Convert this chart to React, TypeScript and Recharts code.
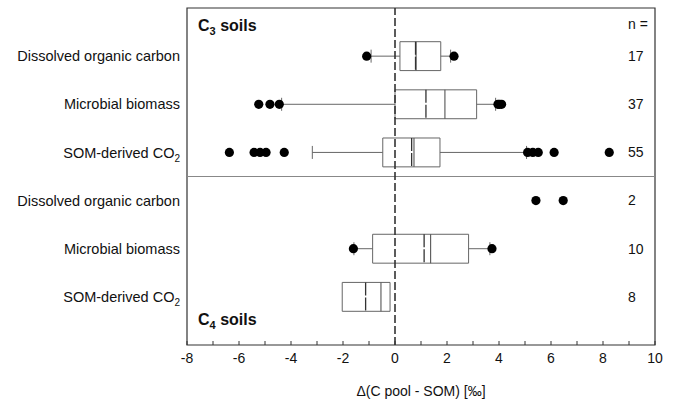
import { ScatterChart, Scatter, XAxis, YAxis, ReferenceArea, ReferenceLine, Label } from 'recharts';

// rows, top to bottom (0-2: C3 soils, 3-5: C4 soils)
const rowLabels = ['Dissolved organic carbon', 'Microbial biomass', 'SOM-derived CO2', 'Dissolved organic carbon', 'Microbial biomass', 'SOM-derived CO2'];
const rowCounts = [17, 37, 55, 2, 10, 8];

// box statistics per row (null = not drawn)
const boxQ1 = [0.19, 0.0, -0.47, null, -0.86, -2.03];
const boxMedian = [0.81, 1.92, 0.73, null, 1.37, -0.54];
const boxMean = [0.79, 1.19, 0.64, null, 1.12, -1.13];
const boxQ3 = [1.76, 3.14, 1.73, null, 2.83, -0.19];
const whiskerLow = [-0.92, -4.36, -3.18, null, -1.58, null];
const whiskerHigh = [2.14, 3.87, 5.06, null, 3.65, null];

// outliers per row
const outliersDocC3 = [-1.09, 2.27];
const outliersMbC3 = [-5.24, -4.81, -4.45, 3.96, 4.02, 4.1];
const outliersCo2C3 = [-6.37, -5.42, -5.19, -4.96, -4.26, 5.1, 5.3, 5.51, 6.12, 8.24];
const outliersDocC4 = [5.42, 6.47];
const outliersMbC4 = [-1.6, 3.73];
const outliersCo2C4: number[] = [];

const xTicks = [-8, -7, -6, -5, -4, -3, -2, -1, 0, 1, 2, 3, 4, 5, 6, 7, 8, 9, 10];

const rows = [0, 1, 2, 3, 4, 5];
const outlierRows = [outliersDocC3, outliersMbC3, outliersCo2C3, outliersDocC4, outliersMbC4, outliersCo2C4];
const outlierData = outlierRows.flatMap((vals, row) => vals.map((x) => ({ x, y: row })));

// "n =" column, placed in data units near the right frame
const COUNT_X = 8.96;
const HEADER_Y = -0.67;
const countData = [
  { x: COUNT_X, y: HEADER_Y, label: 'n =' },
  ...rows.map((r) => ({ x: COUNT_X, y: r, label: String(rowCounts[r]) })),
];

const BOX_H = 0.3;
const CAP_H = 0.135;
const LINE = '#666';
const FONT = 'Liberation Sans, Arial, sans-serif';

function RowTick({ x, y, payload }: any) {
  const label: string = rowLabels[payload.value] ?? '';
  const sub = label.endsWith('CO2');
  return (
    <text x={x} y={y} dy="0.35em" textAnchor="end" fontSize={14.5} fill="#111" fontFamily={FONT}>
      {sub ? label.slice(0, -1) : label}
      {sub && <tspan fontSize={10} dy={4}>2</tspan>}
    </text>
  );
}

function Title({ x, y, n }: { x: number; y: number; n: string }) {
  return (
    <text x={x} y={y} fontSize={16} fontWeight="bold" fill="#111" fontFamily={FONT}>
      C<tspan fontSize={11} dy={4}>{n}</tspan>
      <tspan dy={-4}> soils</tspan>
    </text>
  );
}

export default function App() {
  return (
    <div style={{ position: 'absolute', left: 0, top: 0 }}>
      <ScatterChart width={676} height={399} margin={{ top: 8, right: 21, bottom: 0, left: 0 }}>
        <XAxis
          type="number"
          dataKey="x"
          domain={[-8, 10]}
          ticks={xTicks}
          interval={0}
          allowDataOverflow
          height={54}
          axisLine={false}
          tickSize={-4}
          tickMargin={12}
          tickLine={{ stroke: '#333' }}
          tickFormatter={(v: number) => (v % 2 === 0 ? String(v) : '')}
          tick={{ fontSize: 14, fill: '#111', fontFamily: FONT }}
        >
          <Label value="Δ(C pool - SOM) [‰]" position="insideBottom" offset={3} fontSize={14} fill="#111" fontFamily={FONT} />
        </XAxis>
        <YAxis
          type="number"
          dataKey="y"
          domain={[-1, 6]}
          reversed
          allowDataOverflow
          ticks={rows}
          interval={0}
          width={187}
          axisLine={false}
          tickLine={false}
          tickSize={0}
          tickMargin={7}
          tick={<RowTick />}
        />

        {/* plot frame and group divider */}
        <ReferenceArea x1={-8} x2={10} y1={-1} y2={6} fill="none" stroke="#333" strokeWidth={1.2} ifOverflow="visible" />
        <ReferenceLine y={2.5} stroke="#888" strokeWidth={1.2} />

        {rows.map((r) =>
          boxQ1[r] !== null && boxQ3[r] !== null ? (
            <ReferenceArea key={`box-${r}`} x1={boxQ1[r]!} x2={boxQ3[r]!} y1={r - BOX_H} y2={r + BOX_H} fill="none" stroke={LINE} strokeWidth={1} fillOpacity={0} />
          ) : null
        )}
        {rows.map((r) =>
          boxMedian[r] !== null ? (
            <ReferenceLine key={`med-${r}`} segment={[{ x: boxMedian[r]!, y: r - BOX_H }, { x: boxMedian[r]!, y: r + BOX_H }]} stroke="#555" strokeWidth={1.1} />
          ) : null
        )}
        {rows.map((r) =>
          boxMean[r] !== null ? (
            <ReferenceLine key={`mean-${r}`} segment={[{ x: boxMean[r]!, y: r - BOX_H }, { x: boxMean[r]!, y: r + BOX_H }]} stroke="#333" strokeWidth={1.3} strokeDasharray="13 2" />
          ) : null
        )}
        {rows.map((r) =>
          whiskerLow[r] !== null ? (
            <ReferenceLine key={`wl-${r}`} segment={[{ x: whiskerLow[r]!, y: r }, { x: boxQ1[r]!, y: r }]} stroke={LINE} strokeWidth={1} />
          ) : null
        )}
        {rows.map((r) =>
          whiskerHigh[r] !== null ? (
            <ReferenceLine key={`wh-${r}`} segment={[{ x: boxQ3[r]!, y: r }, { x: whiskerHigh[r]!, y: r }]} stroke={LINE} strokeWidth={1} />
          ) : null
        )}
        {rows.map((r) =>
          whiskerLow[r] !== null ? (
            <ReferenceLine key={`cl-${r}`} segment={[{ x: whiskerLow[r]!, y: r - CAP_H }, { x: whiskerLow[r]!, y: r + CAP_H }]} stroke={LINE} strokeWidth={1} />
          ) : null
        )}
        {rows.map((r) =>
          whiskerHigh[r] !== null ? (
            <ReferenceLine key={`ch-${r}`} segment={[{ x: whiskerHigh[r]!, y: r - CAP_H }, { x: whiskerHigh[r]!, y: r + CAP_H }]} stroke={LINE} strokeWidth={1} />
          ) : null
        )}

        <ReferenceLine x={0} stroke="#333" strokeWidth={1.6} strokeDasharray="8 3" />

        <Scatter
          data={outlierData}
          isAnimationActive={false}
          shape={(p: any) => <circle cx={p.cx} cy={p.cy} r={4.6} fill="#000" />}
        />
        <Scatter
          data={countData}
          isAnimationActive={false}
          shape={(p: any) => (
            <text x={p.cx} y={p.cy} dy="0.35em" textAnchor="start" fontSize={14} fill="#111" fontFamily={FONT}>
              {p.payload.label}
            </text>
          )}
        />

        <Title x={198} y={31} n="3" />
        <Title x={198} y={325} n="4" />
      </ScatterChart>
    </div>
  );
}
